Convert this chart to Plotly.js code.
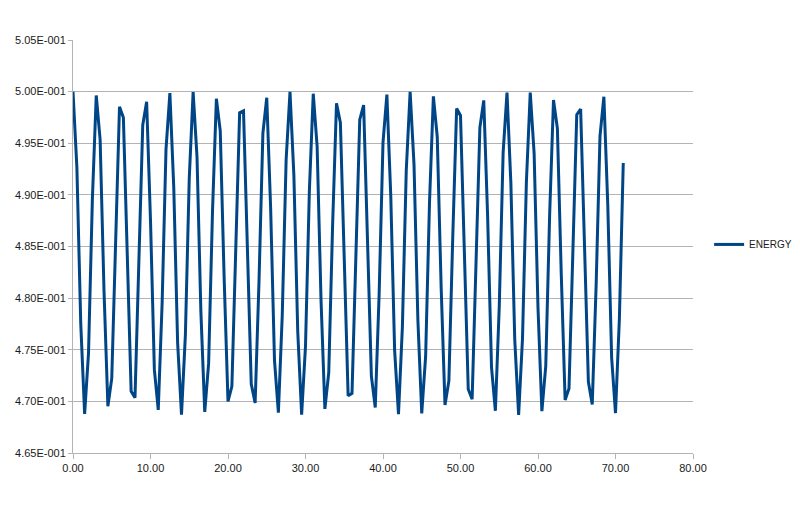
<!DOCTYPE html>
<html>
<head>
<meta charset="utf-8">
<script src="https://cdn.plot.ly/plotly-3.0.1.min.js"></script>
<style>
  html, body { margin: 0; padding: 0; background: #fff; }
  #chart { width: 800px; height: 523px; }
</style>
</head>
<body>
<div id="chart"></div>
<script>
// time axis (one sample every 0.5)
var time = [
  0, 0.5, 1, 1.5, 2, 2.5, 3, 3.5, 4, 4.5, 5, 5.5, 6, 6.5, 7, 7.5, 8, 8.5, 9, 9.5,
  10, 10.5, 11, 11.5, 12, 12.5, 13, 13.5, 14, 14.5, 15, 15.5, 16, 16.5, 17, 17.5, 18, 18.5, 19, 19.5,
  20, 20.5, 21, 21.5, 22, 22.5, 23, 23.5, 24, 24.5, 25, 25.5, 26, 26.5, 27, 27.5, 28, 28.5, 29, 29.5,
  30, 30.5, 31, 31.5, 32, 32.5, 33, 33.5, 34, 34.5, 35, 35.5, 36, 36.5, 37, 37.5, 38, 38.5, 39, 39.5,
  40, 40.5, 41, 41.5, 42, 42.5, 43, 43.5, 44, 44.5, 45, 45.5, 46, 46.5, 47, 47.5, 48, 48.5, 49, 49.5,
  50, 50.5, 51, 51.5, 52, 52.5, 53, 53.5, 54, 54.5, 55, 55.5, 56, 56.5, 57, 57.5, 58, 58.5, 59, 59.5,
  60, 60.5, 61, 61.5, 62, 62.5, 63, 63.5, 64, 64.5, 65, 65.5, 66, 66.5, 67, 67.5, 68, 68.5, 69, 69.5,
  70, 70.5, 71
];

var energy = [
  0.50000, 0.49266, 0.47753, 0.46879, 0.47465, 0.48959, 0.49963, 0.49534, 0.48074, 0.46953,
  0.47222, 0.48628, 0.49853, 0.49749, 0.48413, 0.47097, 0.47036, 0.48287, 0.49676, 0.49902,
  0.48752, 0.47305, 0.46917, 0.47953, 0.49440, 0.49985, 0.49077, 0.47566, 0.46871, 0.47641,
  0.49157, 0.49995, 0.49371, 0.47869, 0.46898, 0.47368, 0.48839, 0.49931, 0.49621, 0.48199,
  0.46999, 0.47145, 0.48501, 0.49795, 0.49814, 0.48539, 0.47168, 0.46984, 0.48161, 0.49595,
  0.49941, 0.48875, 0.47396, 0.46891, 0.47834, 0.49340, 0.49998, 0.49190, 0.47675, 0.46872,
  0.47535, 0.49042, 0.49980, 0.49469, 0.47989, 0.46927, 0.47279, 0.48715, 0.49888, 0.49699,
  0.48325, 0.47054, 0.47078, 0.48375, 0.49728, 0.49869, 0.48665, 0.47245, 0.46941, 0.48038,
  0.49506, 0.49971, 0.48995, 0.47494, 0.46876, 0.47719, 0.49234, 0.49999, 0.49298, 0.47788,
  0.46884, 0.47435, 0.48923, 0.49954, 0.49561, 0.48112, 0.46966, 0.47198, 0.48590, 0.49837,
  0.49769, 0.48451, 0.47118, 0.47020, 0.48249, 0.49652, 0.49915, 0.48790, 0.47332, 0.46909,
  0.47917, 0.49410, 0.49990, 0.49111, 0.47599, 0.46870, 0.47609, 0.49122, 0.49991, 0.49401,
  0.47905, 0.46906, 0.47341, 0.48802, 0.49919, 0.49645, 0.48236, 0.47014, 0.47124, 0.48463,
  0.49776, 0.49831, 0.48577, 0.47190, 0.46970, 0.48124, 0.49569, 0.49951, 0.48912, 0.47425,
  0.46886, 0.47799, 0.49309
];

var yTicks = [0.465, 0.470, 0.475, 0.480, 0.485, 0.490, 0.495, 0.500, 0.505];
var yLabels = ['4.65E-001', '4.70E-001', '4.75E-001', '4.80E-001', '4.85E-001',
               '4.90E-001', '4.95E-001', '5.00E-001', '5.05E-001'];
var xTicks = [0, 10, 20, 30, 40, 50, 60, 70, 80];
var xLabels = ['0.00', '10.00', '20.00', '30.00', '40.00', '50.00', '60.00', '70.00', '80.00'];

var data = [{
  x: time,
  y: energy,
  name: 'ENERGY',
  type: 'scatter',
  mode: 'lines',
  line: {color: '#004586', width: 3}
}];

var layout = {
  width: 800,
  height: 523,
  // keep the plot box fixed, the legend must not push it
  margin: {l: 73, r: 107, t: 40, b: 70, autoexpand: false},
  paper_bgcolor: '#ffffff',
  plot_bgcolor: '#ffffff',
  font: {family: 'Liberation Sans, Arial, sans-serif', size: 11, color: '#1a1a1a'},
  showlegend: true,
  legend: {
    x: 1.026, y: 0.505, xanchor: 'left', yanchor: 'middle',
    font: {size: 10, color: '#1a1a1a'},
    bgcolor: 'rgba(0,0,0,0)'
  },
  xaxis: {
    range: [0, 80],
    tickvals: xTicks,
    ticktext: xLabels,
    showgrid: false,
    zeroline: false,
    showline: true,
    linecolor: '#b3b3b3',
    linewidth: 1,
    ticks: 'outside',
    ticklen: 5,
    tickcolor: '#b3b3b3'
  },
  yaxis: {
    range: [0.465, 0.505],
    tickvals: yTicks,
    ticktext: yLabels,
    showgrid: true,
    gridcolor: '#b3b3b3',
    gridwidth: 1,
    zeroline: false,
    showline: true,
    linecolor: '#b3b3b3',
    linewidth: 1,
    ticks: 'outside',
    ticklen: 4,
    tickcolor: '#b3b3b3'
  }
};

Plotly.newPlot('chart', data, layout, {displayModeBar: false, staticPlot: true});
</script>
</body>
</html>
